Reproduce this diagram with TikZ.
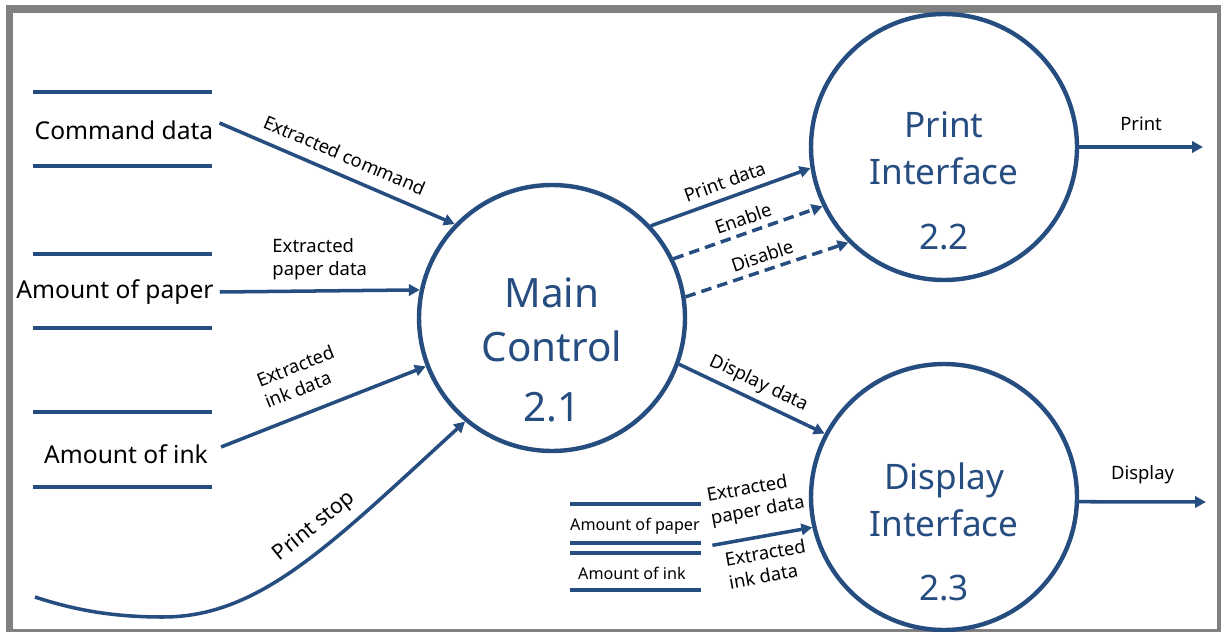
\documentclass[tikz,border=0pt]{standalone}
\usepackage{fontspec}
\setmainfont{Noto Sans}
\usepackage{tikz}
\usetikzlibrary{arrows.meta, calc}
\definecolor{dfdblue}{RGB}{38,77,128}

\begin{document}
\begin{tikzpicture}[x = 0.02cm, y = -0.02cm,
	flow/.style = {draw = dfdblue, line width = 2pt, -{Triangle[length = 6.2pt, width = 6.4pt]}},
	ctrl/.style = {flow, dash pattern = on 6pt off 3.5pt},
	proc/.style = {circle, draw = dfdblue, line width = 2.5pt, minimum size = 5.32cm, inner sep = 0pt},
	proctext/.style = {text = dfdblue, align = center},
	storeline/.style = {draw = dfdblue, line width = 2pt},
	store/.style = {font = \fontsize{14}{17}\selectfont},
	smallstore/.style = {font = \fontsize{9.2}{11}\selectfont, inner sep = 3pt},
	lbl/.style = {font = \fontsize{10.5}{13}\selectfont, align = left}]
	\useasboundingbox (0,0) rectangle (1221,632);
	\fill [gray] (6,5) rectangle (1221,632);
	\fill [white] (13,13) rectangle (1217,629);

	\node [proc] (main) at (552,318) {};
	\node [proc] (prt) at (944,147) {};
	\node [proc] (dsp) at (944,497) {};
	\node [proctext, font = \fontsize{23}{30.6}\selectfont] (maintxt) at (552,350) {Main\\Control\\[3.4pt]2.1};
	\node [proctext, font = \fontsize{20}{26.6}\selectfont] (prttxt) at (944,181) {Print\\Interface\\[10.3pt]2.2};
	\node [proctext, font = \fontsize{20}{26.6}\selectfont] (dsptxt) at (944,532) {Display\\Interface\\[10.3pt]2.3};

	\foreach \y in {92,166,254,328,412,487}
	{
		\draw [storeline] (33,\y) -- (212,\y);
	}
	\foreach \y in {504,543,553,590}
	{
		\draw [storeline] (570,\y) -- (701,\y);
	}

	\node [store] (cmd) at (124,130) {Command data};
	\node [store] (paper) at (115,292) {Amount of paper};
	\node [store] (ink) at (126,454) {Amount of ink};
	\node [smallstore] (smpaper) at (635,526) {Amount of paper};
	\node [smallstore] (smink) at (632,573) {Amount of ink};

	\coordinate (stopin) at (35,597);
	\coordinate (stopdip) at (163,617);
	\coordinate (printout) at (1203,147);
	\coordinate (dispout) at (1206,502);

	\begin{scope}[flow]
		\draw ([yshift = 4pt]cmd.east) -- (main.136) node [lbl, midway, sloped, above = 3pt] {Extracted command};
		\draw (paper.east) -- (main.168) node [lbl, midway, above = 2pt] {Extracted\\paper data};
		\draw ([xshift = 4pt, yshift = 4pt]ink.east) -- (main.201) node [lbl, pos = 0.45, sloped, above = 6pt] {Extracted\\ink data};
		\draw (stopin) .. controls (80,612) and (120,617) .. (stopdip)
			.. controls (260,617) and (330,545) .. (main.230)
			node [lbl, font = \fontsize{12.2}{14}\selectfont, pos = 0.6, sloped, above = 2pt] {Print stop};
		\draw (main.43) -- (prt.189) node [lbl, midway, sloped, above = 1pt] {Print data};
		\draw [ctrl] (main.26) -- (prt.206) node [lbl, midway, sloped, above] {Enable};
		\draw [ctrl] (main.9) -- (prt.225) node [lbl, midway, sloped, above] {Disable};
		\draw (main.-20) -- (dsp.152) node [lbl, midway, sloped, above] {Display data};
		\draw ([xshift = 4pt, yshift = -11pt]smpaper.east) -- (dsp.193)
			node [lbl, midway, sloped, above = 5pt] {Extracted\\paper data}
			node [lbl, midway, sloped, below = 1pt] {Extracted\\ink data};
		\draw (prt.east) -- (printout) node [lbl, midway, above = 5pt] {Print};
		\draw (dsp.-2) -- (dispout) node [lbl, midway, above = 6pt] {Display};
	\end{scope}
\end{tikzpicture}
\end{document}
